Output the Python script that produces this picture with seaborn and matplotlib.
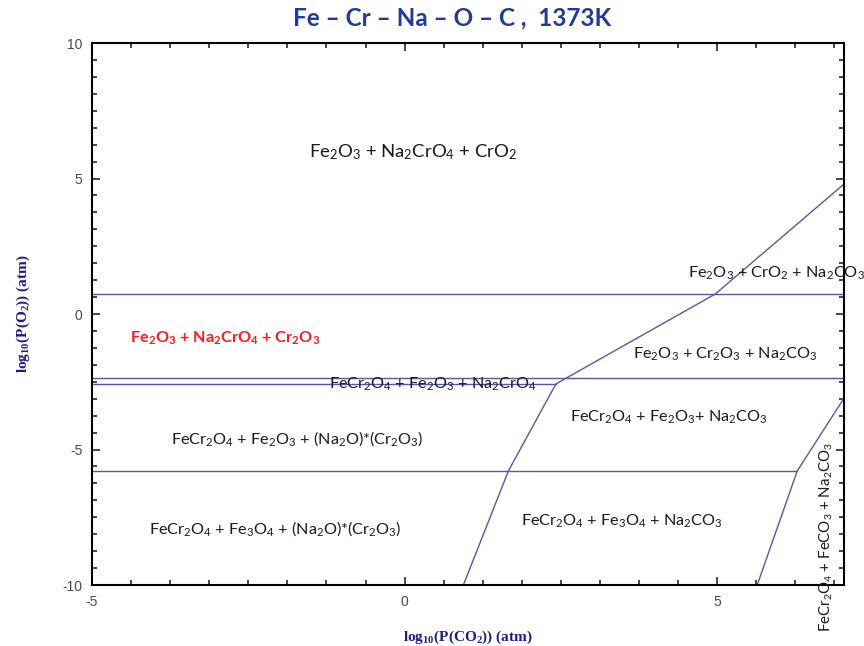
import numpy as np
import pandas as pd
import matplotlib
matplotlib.use("Agg")
import matplotlib.pyplot as plt
import matplotlib.ticker as ticker
import seaborn as sns

# phase boundaries, log10 P(CO2) vs log10 P(O2)
b_top_x = [-5.0, 7.03]
b_top_y = [0.74, 0.74]
b_mid_x = [-5.0, 7.03]
b_mid_y = [-2.36, -2.36]
b_low_x = [-5.0, 2.42]
b_low_y = [-2.58, -2.58]
b_bot_x = [-5.0, 6.28]
b_bot_y = [-5.79, -5.79]
b_slope_x = [0.94, 1.66, 2.42, 4.97, 7.03]
b_slope_y = [-10.0, -5.79, -2.58, 0.74, 4.80]
b_right_x = [5.64, 6.28, 7.03]
b_right_y = [-10.0, -5.79, -3.1]

# region labels
labels = [
    "Fe$_2$O$_3$ + Na$_2$CrO$_4$ + CrO$_2$",
    "Fe$_2$O$_3$ + Cr$_2$O$_3$ + Na$_2$CO$_3$",
    "FeCr$_2$O$_4$ + Fe$_2$O$_3$ + Na$_2$CrO$_4$",
    "FeCr$_2$O$_4$ + Fe$_2$O$_3$+ Na$_2$CO$_3$",
    "FeCr$_2$O$_4$ + Fe$_2$O$_3$ + (Na$_2$O)*(Cr$_2$O$_3$)",
    "FeCr$_2$O$_4$ + Fe$_3$O$_4$ + (Na$_2$O)*(Cr$_2$O$_3$)",
    "FeCr$_2$O$_4$ + Fe$_3$O$_4$ + Na$_2$CO$_3$",
]
label_x = [0.14, 5.13, 0.46, 4.23, -1.71, -2.07, 3.48]
label_y = [5.98, -1.48, -2.58, -3.80, -4.58, -7.93, -7.64]
label_size = [13.3, 11.7, 11.7, 11.7, 11.7, 11.7, 11.7]

edge_label = "Fe$_2$O$_3$ + CrO$_2$ + Na$_2$CO$_3$"
edge_xy = (4.54, 1.51)
red_label = "Fe$_2$O$_3$ + Na$_2$CrO$_4$ + Cr$_2$O$_3$"
red_xy = (-2.87, -0.89)
side_label = "FeCr$_2$O$_4$ + FeCO$_3$ + Na$_2$CO$_3$"
side_xy = (6.74, -8.23)

sns.set_style("ticks")
plt.rcParams["font.family"] = ["Lato", "DejaVu Sans"]
plt.rcParams["mathtext.default"] = "regular"
plt.rcParams["axes.unicode_minus"] = False

segs = [(b_top_x, b_top_y), (b_mid_x, b_mid_y), (b_low_x, b_low_y),
        (b_bot_x, b_bot_y), (b_slope_x, b_slope_y), (b_right_x, b_right_y)]
df = pd.concat(
    [pd.DataFrame({"x": sx, "y": sy, "seg": i}) for i, (sx, sy) in enumerate(segs)],
    ignore_index=True,
)

fig = plt.figure(figsize=(8.64, 6.46), dpi=100)
ax = fig.add_axes([0.1065, 0.0944, 0.8705, 0.839])

sns.lineplot(data=df, x="x", y="y", units="seg", estimator=None, sort=False,
             color="#5656ad", linewidth=1.0, ax=ax)

ax.set_xlim(-5, 7.03)
ax.set_ylim(-10, 10)
ax.xaxis.set_major_locator(ticker.MultipleLocator(5))
ax.yaxis.set_major_locator(ticker.MultipleLocator(5))
ax.xaxis.set_minor_locator(ticker.MultipleLocator(0.625))
ax.yaxis.set_minor_locator(ticker.MultipleLocator(0.625))
ax.tick_params(which="both", direction="in", top=True, right=True,
               labelsize=10, labelcolor="#4a4a4a", width=1.2, pad=7)
ax.tick_params(which="major", length=6)
ax.tick_params(which="minor", length=3.5)
for lab in ax.get_xticklabels() + ax.get_yticklabels():
    lab.set_family("Liberation Sans")
for s in ax.spines.values():
    s.set_linewidth(1.5)
    s.set_color("black")

for txt, x, y, fs in zip(labels, label_x, label_y, label_size):
    ax.text(x, y, txt, ha="center", va="center", fontsize=fs, color="#1a1a1a")
ax.text(*edge_xy, edge_label, ha="left", va="center", fontsize=11.7,
        color="#1a1a1a", clip_on=False)
ax.text(*red_xy, red_label, ha="center", va="center", fontsize=11.7,
        color="#ff1a1a", fontweight="bold")
ax.text(*side_xy, side_label, ha="center", va="center", fontsize=10.8,
        color="#1a1a1a", rotation=90, clip_on=False)

ax.set_xlabel("log$_{10}$(P(CO$_2$)) (atm)", family="Liberation Serif",
              fontweight="bold", fontsize=11, color="#1c1c8a", labelpad=14)
ax.set_ylabel("log$_{10}$(P(O$_2$)) (atm)", family="Liberation Serif",
              fontweight="bold", fontsize=11, color="#1c1c8a", labelpad=22)

fig.text(0.523, 0.972, "Fe – Cr – Na – O – C ,  1373K", ha="center", va="center",
         fontsize=17.5, fontweight="bold", color="#1f3c99")

fig.savefig("out.png", dpi=100)
